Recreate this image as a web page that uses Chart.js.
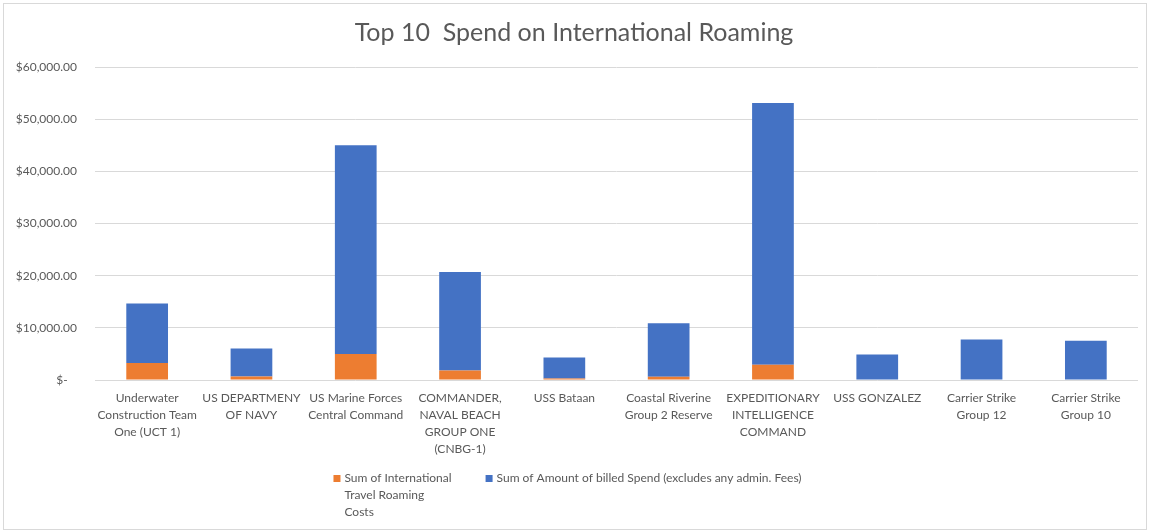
<!DOCTYPE html>
<html>
<head>
<meta charset="utf-8">
<script src="https://cdn.jsdelivr.net/npm/chart.js@4.4.1/dist/chart.umd.min.js"></script>
<style>
  html, body { margin: 0; padding: 0; background: #fff; }
  #caja { position: relative; width: 1151px; height: 532px; }
  #marco { position: absolute; left: 3px; top: 3px; width: 1142px; height: 525px; border: 1.5px solid #d9d9d9; pointer-events: none; }
</style>
</head>
<body>
<div id="caja">
  <canvas id="grafico" width="1151" height="532"></canvas>
  <div id="marco"></div>
</div>
<script>
// categorias (cada una partida en lineas como en el original)
const categorias = [
  ["Underwater", "Construction Team", "One (UCT 1)"],
  ["US DEPARTMENY", "OF NAVY"],
  ["US Marine Forces", "Central Command"],
  ["COMMANDER,", "NAVAL BEACH", "GROUP ONE", "(CNBG-1)"],
  ["USS Bataan"],
  ["Coastal Riverine", "Group 2 Reserve"],
  ["EXPEDITIONARY", "INTELLIGENCE", "COMMAND"],
  ["USS GONZALEZ"],
  ["Carrier Strike", "Group 12"],
  ["Carrier Strike", "Group 10"]
]

const roaming = [3250, 690, 4970, 1840, 300, 630, 2930, 0, 0, 0]
const gastoFacturado = [11400, 5350, 40020, 18860, 4020, 10270, 50150, 4900, 7760, 7510]

const nombresSeries = [
  ["Sum of International", "Travel Roaming", "Costs"],
  ["Sum of Amount of billed Spend (excludes any admin. Fees)"]
]

const etiquetasEje = ["$-   ", "$10,000.00", "$20,000.00", "$30,000.00", "$40,000.00", "$50,000.00", "$60,000.00"]

const gris = "#595959"
const fuente = "Lato, 'Open Sans', sans-serif"

// leyenda a mano: la de Chart.js no parte bien el texto en varias lineas
const leyenda = {
  id: 'leyenda',
  afterDraw(chart) {
    const ctx = chart.ctx
    const colores = chart.data.datasets.map(d => d.backgroundColor)
    ctx.save()
    ctx.font = "12px " + fuente
    ctx.textBaseline = 'middle'
    ctx.textAlign = 'left'
    const anchos = nombresSeries.map(lineas => Math.max(...lineas.map(l => ctx.measureText(l).width)))
    const caja = 7, hueco = 4, separacion = 34, alto = 17
    const total = anchos.reduce((a, w) => a + caja + hueco + w, 0) + separacion * (anchos.length - 1)
    let x = chart.width / 2 - total / 2 - 8
    const y = chart.chartArea.bottom + 98
    nombresSeries.forEach((lineas, i) => {
      ctx.fillStyle = colores[i]
      ctx.fillRect(x, y - 3, caja, caja)
      ctx.fillStyle = gris
      lineas.forEach((l, j) => ctx.fillText(l, x + caja + hueco, y + j * alto))
      x += caja + hueco + anchos[i] + separacion
    })
    ctx.restore()
  }
}

const grafico = new Chart(document.querySelector("#grafico"), {
  type: 'bar',
  data: {
    labels: categorias,
    datasets: [{
      label: nombresSeries[0].join(" "),
      data: roaming,
      backgroundColor: '#ED7D31',
      categoryPercentage: 1,
      barPercentage: 0.4
    }, {
      label: nombresSeries[1].join(" "),
      data: gastoFacturado,
      backgroundColor: '#4472C4',
      categoryPercentage: 1,
      barPercentage: 0.4
    }]
  },
  options: {
    responsive: false,
    animation: false,
    layout: { padding: { left: 10, right: 13, top: 0, bottom: 68 } },
    plugins: {
      title: {
        display: true,
        text: "Top 10  Spend on International Roaming",
        color: gris,
        font: { family: fuente, size: 25, weight: 'normal' },
        padding: { top: 18, bottom: 19 }
      },
      legend: { display: false },
      tooltip: { enabled: false }
    },
    scales: {
      x: {
        stacked: true,
        grid: { display: false, drawTicks: false },
        border: { display: false },
        ticks: {
          color: gris,
          font: { family: fuente, size: 12, lineHeight: 1.4 },
          maxRotation: 0,
          autoSkip: false,
          padding: 10
        },
        afterFit(scale) { scale.height = 84 }
      },
      y: {
        stacked: true,
        min: 0,
        max: 60000,
        grid: { color: '#d9d9d9', drawTicks: false },
        border: { display: false },
        ticks: {
          stepSize: 10000,
          color: gris,
          font: { family: fuente, size: 12 },
          padding: 18,
          callback: (valor, indice) => etiquetasEje[indice]
        },
        afterFit(scale) { scale.width = 85 }
      }
    }
  },
  plugins: [leyenda]
})
</script>
</body>
</html>
